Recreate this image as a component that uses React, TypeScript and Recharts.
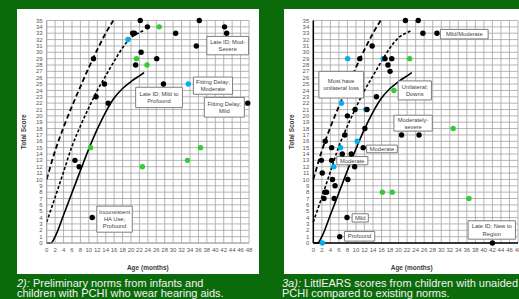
import React from "react";
import {
  ComposedChart,
  Line,
  Scatter,
  XAxis,
  YAxis,
  CartesianGrid,
  ReferenceArea,
} from "recharts";

// axis ticks
const xTicks = [0, 2, 4, 6, 8, 10, 12, 14, 16, 18, 20, 22, 24, 26, 28, 30, 32, 34, 36, 38, 40, 42, 44, 46, 48];
const yTicks = [0, 1, 2, 3, 4, 5, 6, 7, 8, 9, 10, 11, 12, 13, 14, 15, 16, 17, 18, 19, 20, 21, 22, 23, 24, 25, 26, 27, 28, 29, 30, 31, 32, 33, 34, 35];

// norm curves (same on both charts)
const upperMonths = [0, 2, 4, 6, 8, 10, 12, 14, 15.8];
const upperScores = [10, 14.5, 18.2, 21.5, 24.6, 27.6, 30.4, 33, 35];
const middleMonths = [0, 2, 4, 6, 8, 10, 12, 14, 16, 18, 20, 22, 22.9];
const middleScores = [3.3, 7.2, 11.2, 15.2, 18.4, 21.3, 24, 26.3, 28.6, 30.7, 32.3, 33.1, 33.4];
const lowerMonths = [0, 1, 2, 4, 6, 8, 10, 12, 14, 16, 18, 20, 22, 23.1];
const lowerScores = [0, 0, 1, 4.4, 7.9, 11.4, 14.8, 17.9, 20.6, 22.8, 24.3, 25.4, 26.3, 26.8];

// chart 2 (aided)
const aidBlack: [number, number][] = [
  [6.7, 13], [7.7, 12], [10.8, 4], [11.1, 29], [11.7, 23], [13.7, 25], [14.6, 22],
  [20.4, 33], [20.8, 33], [21.1, 28], [22.2, 35], [22.4, 30], [23.9, 34], [26.1, 29],
  [27.7, 25], [30.6, 33], [35.5, 31], [36.2, 35], [42.2, 34], [42.7, 33], [47.7, 22],
];
const aidBlue: [number, number][] = [[19.3, 32], [33.6, 25]];
const aidGreen: [number, number][] = [
  [10.4, 15], [21.3, 29], [22.7, 12], [23.8, 28], [26.7, 34], [33.4, 13], [36.5, 15],
];

// chart 3a (unaided)
const unBlack: [number, number][] = [
  [21.6, 35], [24.6, 35], [25.7, 33], [29, 33], [13.8, 31], [10.9, 29], [16.8, 29],
  [18.4, 29], [17.5, 28], [18, 27], [14.8, 23], [9.8, 21], [12.6, 21], [8, 20],
  [12.1, 18], [7.4, 17], [20.7, 17], [24.8, 17], [2.8, 16], [4.3, 15], [11.7, 15],
  [6.8, 14], [8.9, 14], [1.9, 13], [4.3, 13], [9.7, 12], [2.1, 11], [4.5, 10],
  [8.1, 10], [5.1, 9], [2.7, 8], [3.1, 8], [2.5, 7], [4.9, 7], [7.9, 4], [6.2, 1], [42, 0],
];
const unBlue: [number, number][] = [
  [8.05, 29], [16.4, 29], [6.6, 22], [12.3, 21], [6.4, 15], [10.3, 16], [4.8, 12], [2.1, 0],
];
const unGreen: [number, number][] = [
  [22.6, 29], [18.9, 24], [32.8, 18], [16.2, 8], [18.5, 8], [36.5, 7],
];

// callout boxes, in data units
type Note = { x1: number; x2: number; y1: number; y2: number; lines: string[] };
const aidNotes: Note[] = [
  { x1: 38, x2: 47.9, y1: 29.6, y2: 32.5, lines: ["Late ID; Mod-", "Severe"] },
  { x1: 34.8, x2: 44.1, y1: 23.4, y2: 26.1, lines: ["Fitting Delay;", "Moderate"] },
  { x1: 21.1, x2: 32.2, y1: 21.3, y2: 24.5, lines: ["Late ID; Mild to", "Profound"] },
  { x1: 37.4, x2: 46.9, y1: 19.8, y2: 22.9, lines: ["Fitting Delay;", "Mild"] },
  { x1: 11.9, x2: 20.3, y1: 1.7, y2: 5.8, lines: ["Inconsistent", "HA Use;", "Profound"] },
];
const unNotes: Note[] = [
  { x1: 29.8, x2: 41, y1: 32.1, y2: 33.6, lines: ["Mild/Moderate"] },
  { x1: 1.3, x2: 11.8, y1: 22.8, y2: 27, lines: ["Most have", "unilateral loss"] },
  { x1: 19.9, x2: 27.7, y1: 22.5, y2: 25.5, lines: ["Unilateral;", "Downs"] },
  { x1: 18.9, x2: 27.9, y1: 17.6, y2: 20.1, lines: ["Moderately-", "severe"] },
  { x1: 12.5, x2: 19.7, y1: 14.2, y2: 15.4, lines: ["Moderate"] },
  { x1: 5.5, x2: 12.8, y1: 12.3, y2: 13.6, lines: ["Moderate"] },
  { x1: 9.1, x2: 12.9, y1: 3.3, y2: 4.6, lines: ["Mild"] },
  { x1: 7.3, x2: 14.4, y1: 0.3, y2: 1.8, lines: ["Profound"] },
  { x1: 36.3, x2: 47.4, y1: 0.6, y2: 3.5, lines: ["Late ID; New to", "Region"] },
];

const toPts = (m: number[], s: number[]) => m.map((x, i) => ({ x, y: s[i] }));
const toObj = (a: [number, number][]) => a.map(([x, y]) => ({ x, y }));

const FONT = "'Liberation Sans', Arial, sans-serif";

function dot(color: string) {
  return (p: any) => <circle cx={p.cx} cy={p.cy} r={2.7} fill={color} />;
}

function boxText(lines: string[]) {
  return (props: any) => {
    const { x, y, width, height } = props.viewBox;
    const cx = x + width / 2;
    const lh = 7.2;
    const top = y + height / 2 - ((lines.length - 1) * lh) / 2 + 2;
    return (
      <text textAnchor="middle" fontSize={5.8} fill="#3f3f3f" fontFamily={FONT}>
        {lines.map((l, i) => (
          <tspan key={i} x={cx} y={top + i * lh}>
            {l}
          </tspan>
        ))}
      </text>
    );
  };
}

function ScoreChart({
  width,
  yAxisWidth,
  right,
  black,
  blue,
  green,
  notes,
  axisColor,
  axisWidth,
  labelDx,
  yLabelOffset,
}: any) {
  return (
    <ComposedChart
      width={width}
      height={265}
      margin={{ top: 11.5, right, left: 0, bottom: 0 }}
    >
      <CartesianGrid stroke="#a3a3a3" strokeWidth={0.8} />
      <XAxis
        type="number"
        dataKey="x"
        domain={[0, 48]}
        ticks={xTicks}
        interval={0}
        height={31}
        tickLine={false}
        tickSize={3}
        tickMargin={2}
        axisLine={{ stroke: axisColor, strokeWidth: axisWidth }}
        tick={{ fontSize: 6, fill: "#595959", fontFamily: FONT }}
        label={{
          value: "Age (months)",
          position: "insideBottom",
          offset: 4,
          dx: labelDx,
          style: { fontSize: 6.5, fontWeight: "bold", fill: "#404040", fontFamily: FONT },
        }}
      />
      <YAxis
        type="number"
        dataKey="y"
        domain={[0, 35]}
        ticks={yTicks}
        interval={0}
        width={yAxisWidth}
        tickLine={false}
        tickSize={2}
        tickMargin={2}
        axisLine={{ stroke: axisColor, strokeWidth: axisWidth }}
        tick={{ fontSize: 6, fill: "#595959", fontFamily: FONT }}
        label={{
          value: "Total Score",
          angle: -90,
          position: "insideLeft",
          offset: yLabelOffset,
          style: { fontSize: 6.5, fontWeight: "bold", fill: "#404040", fontFamily: FONT, textAnchor: "middle" },
        }}
      />
      <Line
        data={toPts(upperMonths, upperScores)}
        dataKey="y"
        type="monotone"
        stroke="#000"
        strokeWidth={1.8}
        strokeDasharray="5 3"
        dot={false}
        activeDot={false}
        isAnimationActive={false}
      />
      <Line
        data={toPts(middleMonths, middleScores)}
        dataKey="y"
        type="monotone"
        stroke="#000"
        strokeWidth={1.6}
        strokeDasharray="3 2"
        dot={false}
        activeDot={false}
        isAnimationActive={false}
      />
      <Line
        data={toPts(lowerMonths, lowerScores)}
        dataKey="y"
        type="monotone"
        stroke="#000"
        strokeWidth={1.6}
        dot={false}
        activeDot={false}
        isAnimationActive={false}
      />
      {notes.map((n: Note, i: number) => (
        <ReferenceArea
          key={i}
          x1={n.x1}
          x2={n.x2}
          y1={n.y1}
          y2={n.y2}
          fill="#fff"
          fillOpacity={1}
          stroke="#7f7f7f"
          strokeWidth={1}
          ifOverflow="visible"
          zIndex={500}
          label={{ content: boxText(n.lines), zIndex: 510 }}
        />
      ))}
      <Scatter data={toObj(green)} dataKey="y" shape={dot("#33cc33")} isAnimationActive={false} />
      <Scatter data={toObj(blue)} dataKey="y" shape={dot("#00b0f0")} isAnimationActive={false} />
      <Scatter data={toObj(black)} dataKey="y" shape={dot("#000")} isAnimationActive={false} />
    </ComposedChart>
  );
}

const captionStyle: React.CSSProperties = {
  position: "absolute",
  top: 277.5,
  color: "#f2f2f2",
  fontSize: 11,
  lineHeight: "10.5px",
  whiteSpace: "nowrap",
  fontFamily: FONT,
};

export default function App() {
  return (
    <div
      style={{
        position: "absolute",
        left: 0,
        top: 0,
        width: 519,
        height: 299,
        background: "#0b6b0b",
        overflow: "hidden",
      }}
    >
      <div style={{ position: "absolute", left: 17, top: 9, width: 242, height: 265, background: "#fff" }}>
        <ScoreChart
          width={242}
          yAxisWidth={29.7}
          right={10}
          black={aidBlack}
          blue={aidBlue}
          green={aidGreen}
          notes={aidNotes}
          axisColor="#a3a3a3"
          axisWidth={1}
          labelDx={0}
          yLabelOffset={7}
        />
      </div>
      <div style={{ position: "absolute", left: 284, top: 9, width: 235, height: 265, background: "#fff" }}>
        <ScoreChart
          width={235}
          yAxisWidth={29.3}
          right={1}
          black={unBlack}
          blue={unBlue}
          green={unGreen}
          notes={unNotes}
          axisColor="#000"
          axisWidth={1.5}
          labelDx={-4}
          yLabelOffset={8}
        />
      </div>
      <div style={{ ...captionStyle, left: 17 }}>
        <i>2):</i> Preliminary norms from infants and
        <br />
        children with PCHI who wear hearing aids.
      </div>
      <div style={{ ...captionStyle, left: 282 }}>
        <i>3a):</i> LittlEARS scores from children with unaided
        <br />
        PCHI compared to existing norms.
      </div>
    </div>
  );
}
